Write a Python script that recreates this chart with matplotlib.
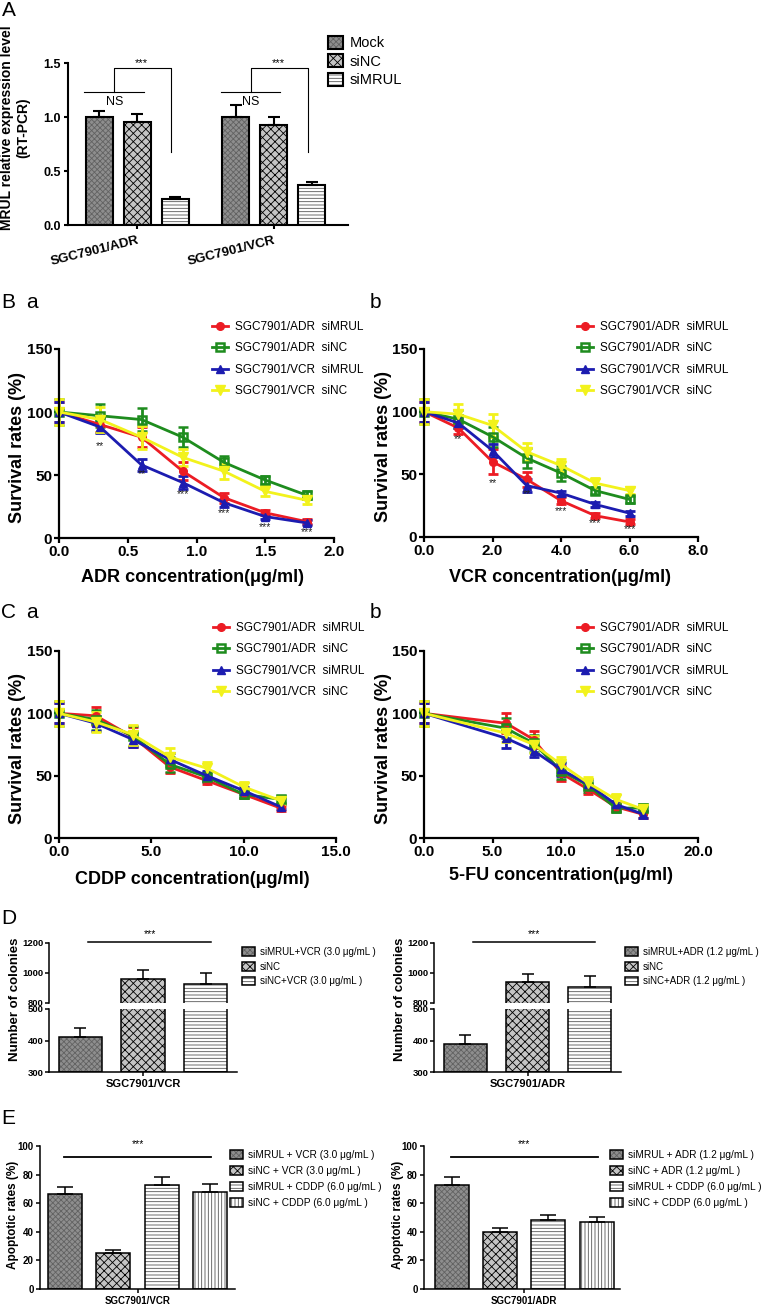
"""
MRUL knockdown figure: RT-PCR bars, drug survival curves,
colony formation and apoptosis bars.
"""
import numpy as np
import matplotlib
matplotlib.use('Agg')
import matplotlib.pyplot as plt
from matplotlib.patches import Patch
from matplotlib.lines import Line2D

plt.rcParams['font.family'] = ['Liberation Sans', 'DejaVu Sans']
plt.rcParams['hatch.linewidth'] = 0.6

# ---------------- data ----------------
# A: RT-PCR
a_groups = ['SGC7901/ADR', 'SGC7901/VCR']
a_labels = ['Mock', 'siNC', 'siMRUL']
a_mean = [[1.00, 0.95, 0.24], [1.00, 0.93, 0.37]]
a_err = [[0.06, 0.08, 0.02], [0.11, 0.07, 0.03]]

# B / C: survival curves (order = curve_labels)
curve_labels = ['SGC7901/ADR  siMRUL', 'SGC7901/ADR  siNC',
                'SGC7901/VCR  siMRUL', 'SGC7901/VCR  siNC']

adr_conc = [0.0, 0.3, 0.6, 0.9, 1.2, 1.5, 1.8]
adr_surv = [[100, 90, 80, 53, 32, 20, 13],
            [100, 97, 94, 80, 60, 46, 34],
            [100, 88, 58, 44, 28, 17, 12],
            [100, 94, 80, 64, 53, 37, 30]]
adr_err = [[8, 6, 8, 7, 4, 2, 2],
           [10, 9, 9, 8, 5, 3, 3],
           [8, 5, 5, 5, 3, 2, 2],
           [10, 10, 9, 7, 6, 4, 3]]
adr_stars = ['**', '**', '***', '***', '***', '***']
adr_stars_y = [73, 51, 35, 20, 9, 5]

vcr_conc = [0, 1, 2, 3, 4, 5, 6]
vcr_surv = [[100, 87, 60, 46, 29, 17, 12],
            [100, 94, 80, 63, 51, 37, 30],
            [100, 91, 69, 41, 35, 26, 19],
            [100, 98, 89, 68, 57, 43, 37]]
vcr_err = [[8, 5, 10, 6, 3, 2, 2],
           [10, 7, 8, 8, 6, 3, 3],
           [8, 4, 5, 5, 2, 2, 2],
           [10, 8, 9, 7, 5, 4, 3]]
vcr_stars = ['**', '**', '**', '***', '***', '***']
vcr_stars_y = [78, 43, 34, 21, 11, 6]

cddp_conc = [0, 2, 4, 6, 8, 10, 12]
cddp_surv = [[100, 98, 81, 57, 46, 35, 24],
             [100, 95, 82, 59, 49, 35, 31],
             [100, 92, 79, 63, 50, 38, 25],
             [100, 93, 83, 65, 56, 41, 30]]
cddp_err = [[8, 7, 8, 5, 3, 3, 2],
            [10, 8, 8, 6, 4, 3, 3],
            [8, 6, 6, 5, 4, 3, 2],
            [10, 8, 8, 7, 5, 4, 3]]

fu_conc = [0, 6, 8, 10, 12, 14, 16]
fu_surv = [[100, 92, 79, 52, 39, 25, 19],
           [100, 88, 76, 54, 42, 24, 24],
           [100, 80, 70, 55, 43, 27, 19],
           [100, 84, 75, 59, 44, 31, 23]]
fu_err = [[8, 8, 7, 6, 4, 3, 3],
          [10, 8, 7, 7, 5, 3, 3],
          [8, 8, 5, 5, 4, 3, 3],
          [10, 7, 7, 6, 5, 4, 3]]

# D: colony numbers
d_vcr_labels = ['siMRUL+VCR (3.0 μg/mL )', 'siNC', 'siNC+VCR (3.0 μg/mL )']
d_vcr = [412, 960, 929]
d_vcr_err = [29, 58, 71]
d_adr_labels = ['siMRUL+ADR (1.2 μg/mL )', 'siNC', 'siNC+ADR (1.2 μg/mL )']
d_adr = [388, 940, 907]
d_adr_err = [29, 56, 71]

# E: apoptotic rates
e_vcr_labels = ['siMRUL + VCR (3.0 μg/mL )', 'siNC + VCR (3.0 μg/mL )',
                'siMRUL + CDDP (6.0 μg/mL )', 'siNC + CDDP (6.0 μg/mL )']
e_vcr = [66.7, 25.3, 72.5, 67.9]
e_vcr_err = [4.7, 1.9, 6.1, 5.8]
e_adr_labels = ['siMRUL + ADR (1.2 μg/mL )', 'siNC + ADR (1.2 μg/mL )',
                'siMRUL + CDDP (6.0 μg/mL )', 'siNC + CDDP (6.0 μg/mL )']
e_adr = [72.6, 39.8, 48.4, 46.7]
e_adr_err = [5.4, 3.2, 3.5, 3.5]

# ---------------- styles ----------------
curve_colors = ['#ec1c24', '#1e8c1e', '#1c1cb0', '#f2f21c']
curve_markers = ['o', 's', '^', 'v']
marker_kw = [dict(ms=5.5), dict(ms=6, mfc='none', mew=1.8),
             dict(ms=6), dict(ms=7.5)]

# (face, hatch, hatch colour)
pat_gray = ('#8e8e8e', 'xxxxxx', '#626262')
pat_check = ('#c4c4c4', 'xxxx', 'black')
pat_hline = ('white', '-----', '#555555')
pat_vline = ('white', '|||||', '#555555')

W, H = 767, 1305
fig = plt.figure(figsize=(W / 100, H / 100), dpi=100)


def px_axes(left, top, right, bottom):
    return fig.add_axes([left / W, 1 - bottom / H, (right - left) / W, (bottom - top) / H])


def ftext(x, y, s, **kw):
    kw.setdefault('ha', 'left')
    kw.setdefault('va', 'center')
    return fig.text(x / W, 1 - y / H, s, **kw)


def style_axes(ax, lw, fs, tlen, pad=2):
    for s in ['top', 'right']:
        ax.spines[s].set_visible(False)
    for s in ['left', 'bottom']:
        ax.spines[s].set_linewidth(lw)
    ax.tick_params(width=lw, length=tlen, labelsize=fs, direction='out', pad=pad)
    for lab in ax.get_xticklabels() + ax.get_yticklabels():
        lab.set_fontweight('bold')


def pattern_handle(pat, lw):
    face, hatch, hcol = pat
    return (Patch(facecolor=face, hatch=hatch, edgecolor=hcol, linewidth=0),
            Patch(fill=False, edgecolor='black', linewidth=lw))


def draw_bar(ax, x, h, err, pat, width, lw, cap, bottom=0):
    face, hatch, hcol = pat
    ax.bar(x, h - bottom, width, bottom=bottom, color=face, hatch=hatch,
           edgecolor=hcol, linewidth=0)
    ax.bar(x, h - bottom, width, bottom=bottom, fill=False,
           edgecolor='black', linewidth=lw)
    ax.errorbar(x, h, yerr=[[0], [err]], color='black', elinewidth=lw,
                capsize=cap, capthick=lw, fmt='none')


def add_legend(ax, handles, labels, x, y_first, fs, pitch, hl, hh=0.7, pad=0.5):
    fs_px = fs * 100 / 72
    row = max(1.02, hh)
    ax.legend(handles, labels, loc='upper left',
              bbox_to_anchor=(x / W, 1 - (y_first - row / 2 * fs_px) / H),
              bbox_transform=fig.transFigure, frameon=False,
              borderpad=0, borderaxespad=0, fontsize=fs,
              handlelength=hl, handleheight=hh, handletextpad=pad,
              labelspacing=max(pitch / fs_px - row, 0))


# ---------------- A ----------------
ax = px_axes(68, 63, 348, 225)
group_x = np.array([0.0, 3.6])
a_pats = [pat_gray, pat_check, pat_hline]
for gi, gx in enumerate(group_x):
    for j in range(3):
        draw_bar(ax, gx + j - 1, a_mean[gi][j], a_err[gi][j], a_pats[j], 0.71, 1.5, 4.5)
    # NS line and bracket to siMRUL
    ax.plot([gx - 1.4, gx + 0.17], [1.23, 1.23], color='black', lw=0.8, clip_on=False)
    ax.text(gx - 0.6, 1.19, 'NS', ha='center', va='top', fontsize=9)
    ax.plot([gx - 0.6, gx - 0.6, gx + 0.9, gx + 0.9], [1.23, 1.45, 1.45, 0.68],
            color='black', lw=0.8, clip_on=False)
    ax.text(gx + 0.12, 1.50, '***', ha='center', va='center', fontsize=8)
ax.set_xlim(-1.82, 5.55)
ax.set_ylim(0, 1.5)
ax.set_yticks([0, 0.5, 1.0, 1.5], ['0.0', '0.5', '1.0', '1.5'])
ax.set_xticks(group_x, a_groups, rotation=14, ha='right', rotation_mode='anchor')
style_axes(ax, 1.5, 9, 3, pad=2)
ax.tick_params(axis='x', labelsize=9.5, pad=4)
add_legend(ax, [pattern_handle(p, 1.5) for p in a_pats], a_labels,
           328, 43, 10.5, 19, 1.03, 1.0, 0.48)
ftext(2, 11, 'A', fontsize=15)
ftext(15, 128, 'MRUL relative expression level\n(RT-PCR)', rotation=90,
      ha='center', fontsize=10, fontweight='bold', linespacing=1.15)


# ---------------- B / C ----------------
def survival_panel(box, x, surv, err, xmax, xstep, xlabel, xlab_pos, ylab_x,
                   leg_x, leg_y, stars=None, stars_y=None):
    ax = px_axes(*box)
    for i in range(4):
        c = ax.errorbar(x, surv[i], yerr=err[i], color=curve_colors[i],
                        marker=curve_markers[i], lw=2, elinewidth=2,
                        capsize=3.5, capthick=2, **marker_kw[i])
        for art in [c[0], *c[1], *c[2]]:
            art.set_clip_on(False)
    if stars:
        for xi, yi, s in zip(x[1:], stars_y, stars):
            ax.text(xi, yi, s, ha='center', va='center', fontsize=7.5, color='#222222')
    ax.set_xlim(0, xmax)
    ax.set_ylim(0, 150)
    ticks = np.arange(0, xmax + xstep / 2, xstep)
    ax.set_xticks(ticks, [f'{t:.1f}' for t in ticks])
    ax.set_yticks([0, 50, 100, 150])
    style_axes(ax, 1.6, 11, 3.5, pad=1.5)
    handles = [Line2D([], [], color=curve_colors[i], marker=curve_markers[i], lw=2,
                      **marker_kw[i]) for i in range(4)]
    add_legend(ax, handles, curve_labels, leg_x, leg_y, 8.5, 21.5, 1.36, 0.7, 0.6)
    ftext(xlab_pos[0], xlab_pos[1], xlabel, ha='center', fontsize=13, fontweight='bold')
    ftext(ylab_x, (box[1] + box[3]) / 2 + 4, 'Survival rates (%)', rotation=90,
          ha='center', fontsize=13, fontweight='bold')
    return ax


survival_panel((59, 349, 334, 538), adr_conc, adr_surv, adr_err, 2.0, 0.5,
               'ADR concentration(μg/ml)', (192, 578), 18, 212, 327,
               adr_stars, adr_stars_y)
survival_panel((424, 349, 698, 537), vcr_conc, vcr_surv, vcr_err, 8.0, 2.0,
               'VCR concentration(μg/ml)', (560, 577), 383, 577, 327,
               vcr_stars, vcr_stars_y)
survival_panel((59, 651, 336, 838), cddp_conc, cddp_surv, cddp_err, 15.0, 5.0,
               'CDDP concentration(μg/ml)', (192, 880), 18, 213, 628)
survival_panel((424, 651, 698, 838), fu_conc, fu_surv, fu_err, 20.0, 5.0,
               '5-FU concentration(μg/ml)', (561, 876), 383, 577, 628)
ftext(1, 302, 'B', fontsize=15)
ftext(26, 302, 'a', fontsize=15)
ftext(370, 302, 'b', fontsize=15)
ftext(1, 612, 'C', fontsize=15)
ftext(26, 612, 'a', fontsize=15)
ftext(370, 612, 'b', fontsize=15)


# ---------------- D ----------------
def colony_panel(left, right, vals, errs, labels, group, leg_x, ylab_x):
    top_ax = px_axes(left, 943, right, 1003)
    bot_ax = px_axes(left, 1009, right, 1072)
    pats = [pat_gray, pat_check, pat_hline]
    for ax in (top_ax, bot_ax):
        for i in range(3):
            draw_bar(ax, i, vals[i], errs[i], pats[i], 0.69, 1.1, 4.5, bottom=300)
        ax.set_xlim(-0.5, 2.5)
    top_ax.set_ylim(800, 1200)
    bot_ax.set_ylim(300, 500)
    top_ax.set_yticks([800, 1000, 1200])
    bot_ax.set_yticks([300, 400, 500])
    top_ax.set_xticks([])
    bot_ax.set_xticks([1], [group])
    style_axes(top_ax, 1.1, 6.8, 3, pad=1)
    style_axes(bot_ax, 1.1, 6.8, 3, pad=1)
    top_ax.spines['bottom'].set_visible(False)
    bot_ax.tick_params(axis='x', labelsize=8, pad=2)
    top_ax.plot([0.12, 2.09], [1205, 1205], color='black', lw=1.1, clip_on=False)
    top_ax.text(1.11, 1262, '***', ha='center', va='center', fontsize=7.5, clip_on=False)
    add_legend(top_ax, [pattern_handle(p, 1.1) for p in pats], labels,
               leg_x, 952, 7, 14.5, 1.34, 1.0, 0.5)
    ftext(ylab_x, 999, 'Number of colonies', rotation=90, ha='center',
          fontsize=9.5, fontweight='bold')


colony_panel(49, 237, d_vcr, d_vcr_err, d_vcr_labels, 'SGC7901/VCR', 242, 15)
colony_panel(434, 621, d_adr, d_adr_err, d_adr_labels, 'SGC7901/ADR', 625, 400)
ftext(1, 918, 'D', fontsize=15)


# ---------------- E ----------------
def apoptosis_panel(left, right, vals, errs, labels, group, leg_x, ylab_x, xlim):
    ax = px_axes(left, 1146, right, 1289)
    pats = [pat_gray, pat_check, pat_hline, pat_vline]
    for i in range(4):
        draw_bar(ax, i, vals[i], errs[i], pats[i], 0.70, 1.1, 6)
    ax.set_xlim(*xlim)
    ax.set_ylim(0, 100)
    ax.set_yticks([0, 20, 40, 60, 80, 100])
    ax.set_xticks([1.5], [group])
    style_axes(ax, 1.1, 7, 3, pad=1.5)
    ax.tick_params(axis='x', labelsize=7, pad=2)
    ax.plot([-0.02, 3.03], [92, 92], color='black', lw=1.3, clip_on=False)
    ax.text(1.5, 101, '***', ha='center', va='center', fontsize=7.5, clip_on=False)
    add_legend(ax, [pattern_handle(p, 1.1) for p in pats], labels,
               leg_x, 1155, 7.3, 16.3, 1.3, 1.0, 0.5)
    ftext(ylab_x, 1215, 'Apoptotic rates (%)', rotation=90, ha='center',
          fontsize=8.5, fontweight='bold')


apoptosis_panel(40, 235, e_vcr, e_vcr_err, e_vcr_labels, 'SGC7901/VCR', 230, 13,
                (-0.52, 3.52))
apoptosis_panel(424, 620, e_adr, e_adr_err, e_adr_labels, 'SGC7901/ADR', 610, 398,
                (-0.57, 3.48))
ftext(1, 1118, 'E', fontsize=15)

plt.savefig('out.png', dpi=100)
